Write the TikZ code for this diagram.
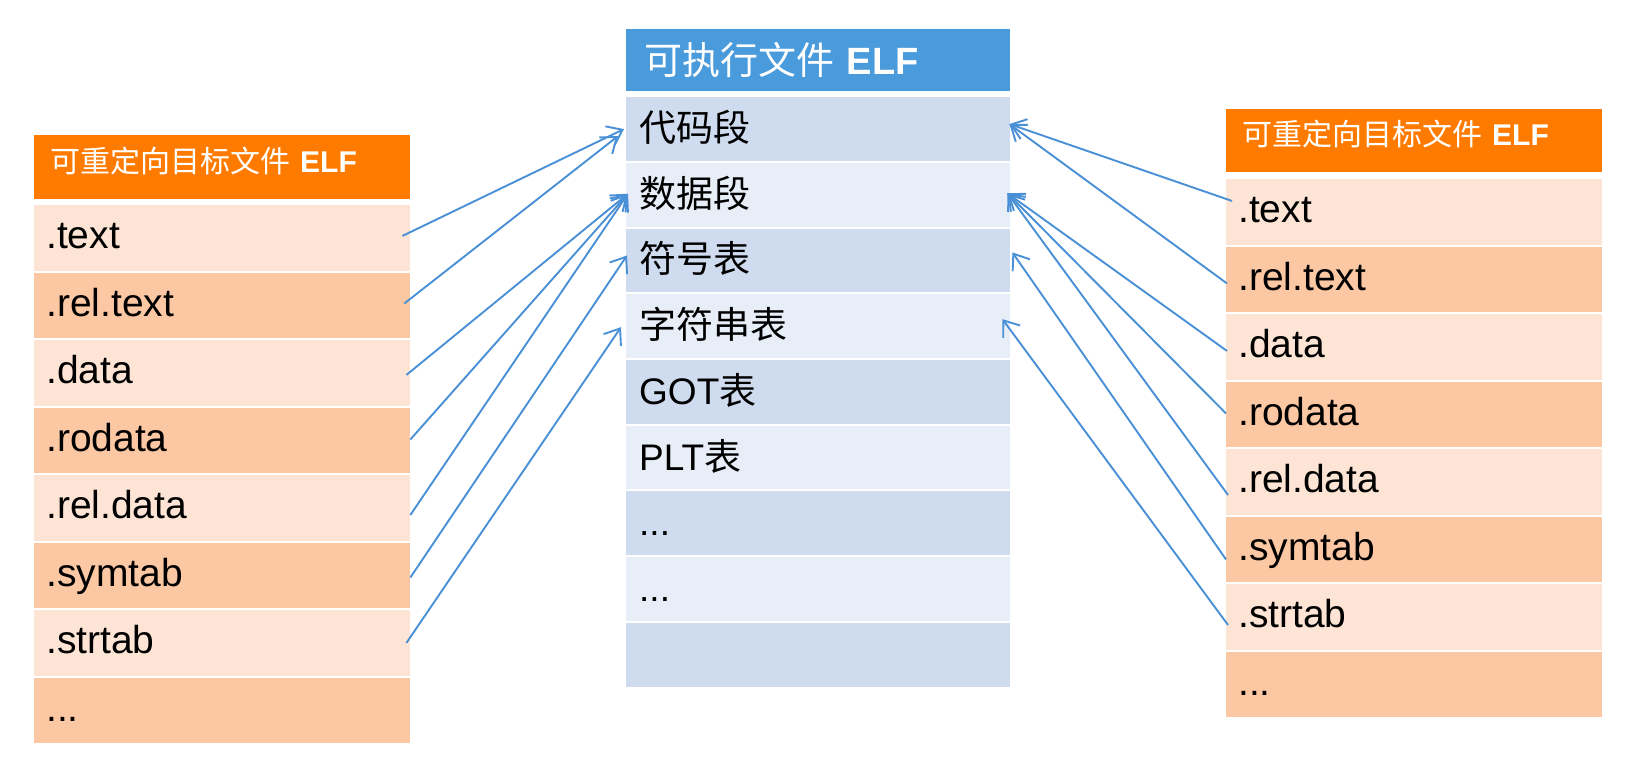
\documentclass[tikz,border=0pt]{standalone}
\usepackage{fontspec}
\setmainfont{Liberation Sans}
\newfontfamily\cjk{Noto Sans CJK SC}
\usetikzlibrary{arrows.meta,calc}
\definecolor{hdrorange}{HTML}{FF7B00}
\definecolor{peachlt}{HTML}{FDE4D5}
\definecolor{peachdk}{HTML}{FCC7A3}
\definecolor{hdrblue}{HTML}{4A9BDB}
\definecolor{bluedk}{HTML}{CFDCEF}
\definecolor{bluelt}{HTML}{E8EEF8}
\definecolor{arrowblue}{HTML}{4A90D6}
\newcommand\mydots{.\kern0pt.\kern0pt.}
\begin{document}
\begin{tikzpicture}[x=1pt,y=-1pt,
  cell/.style={anchor=north west, inner ysep=0pt, align=left, text=black, draw=none},
  sidecell/.style={cell, inner xsep=12pt, text width=352pt, minimum height=65.5pt,
    text height=32pt, text depth=10pt, font=\fontsize{39}{46}\selectfont},
  sidehdr/.style={cell, fill=hdrorange, text=white, inner xsep=16pt, text width=344pt,
    minimum height=64pt, text height=20pt, text depth=10pt, font=\fontsize{30}{36}\selectfont},
  midcell/.style={cell, inner xsep=13pt, text width=358pt, minimum height=63.7pt,
    text height=35pt, text depth=10pt, font=\fontsize{37}{44}\selectfont},
  midhdr/.style={cell, fill=hdrblue, text=white, inner xsep=18pt, text width=348pt,
    minimum height=62pt, text height=38pt, text depth=10pt, font=\fontsize{38}{46}\selectfont},
  conn/.style={draw=arrowblue, line width=1.9pt, -{Straight Barb[length=14pt,width=21pt,line width=1.9pt]}}
]
\useasboundingbox[fill=white] (0,0) rectangle (1650,776);

% left table
\node[sidehdr] (lh) at (34,135) {{\cjk 可重定向目标文件} \textbf{ELF}};
\foreach \i/\t/\c in {1/.text/peachlt, 2/.rel.text/peachdk, 3/.data/peachlt, 4/.rodata/peachdk,
  5/.rel.data/peachlt, 6/.symtab/peachdk, 7/.strtab/peachlt, 8/\mydots/peachdk}
  \node[sidecell, fill=\c] (l\i) at (34,{205+67.5*(\i-1)}) {\t};

% right table
\node[sidehdr, text height=19pt, minimum height=63pt] (rh) at (1226,109) {{\cjk 可重定向目标文件} \textbf{ELF}};
\foreach \i/\t/\c in {1/.text/peachlt, 2/.rel.text/peachdk, 3/.data/peachlt, 4/.rodata/peachdk,
  5/.rel.data/peachlt, 6/.symtab/peachdk, 7/.strtab/peachlt, 8/\mydots/peachdk}
  \node[sidecell, fill=\c] (r\i) at (1226,{179+67.5*(\i-1)}) {\t};

% middle table
\node[midhdr] (mh) at (626,29) {{\cjk 可执行文件} \textbf{ELF}};
\foreach \i/\t/\c in {1/{\cjk 代码段}/bluedk, 2/{\cjk 数据段}/bluelt, 3/{\cjk 符号表}/bluedk,
  4/{\cjk 字符串表}/bluelt, 5/{GOT{\cjk 表}}/bluedk, 6/{PLT{\cjk 表}}/bluelt,
  7/\mydots/bluedk, 8/\mydots/bluelt, 9/{}/bluedk}
  \node[midcell, fill=\c] (m\i) at (626,{97+65.7*(\i-1)}) {\t};

% connectors from left
\draw[conn] ($(l1.east)+(-8,-2)$) -- ($(m1.west)+(-2,0)$);
\draw[conn] ($(l2.east)+(-6,-2)$) -- ($(m1.west)+(-8,7)$);
\draw[conn] ($(l3.east)+(-4,2)$) -- ($(m2.west)+(2,-1)$);
\draw[conn] ($(l4.east)+(0,-1)$) -- ($(m2.west)+(2,-1)$);
\draw[conn] ($(l5.east)+(0,7)$) -- ($(m2.west)+(2,-1)$);
\draw[conn] ($(l6.east)+(0,2)$) -- ($(m3.west)+(1,-5)$);
\draw[conn] ($(l7.east)+(-4,0)$) -- ($(m4.west)+(-5,1)$);

% connectors from right
\draw[conn] ($(r1.west)+(6,-11)$) -- ($(m1.east)+(-1,-5)$);
\draw[conn] ($(r2.west)+(1,4)$) -- ($(m1.east)+(-1,-5)$);
\draw[conn] ($(r3.west)+(1,4)$) -- ($(m2.east)+(-3,-1.5)$);
\draw[conn] ($(r4.west)+(0,-1)$) -- ($(m2.east)+(-3,-1.5)$);
\draw[conn] ($(r5.west)+(2,13)$) -- ($(m2.east)+(-3,-1.5)$);
\draw[conn] ($(r6.west)+(0,10)$) -- ($(m3.east)+(2,-8)$);
\draw[conn] ($(r7.west)+(2,8)$) -- ($(m4.east)+(-8,-7)$);
\end{tikzpicture}
\end{document}
